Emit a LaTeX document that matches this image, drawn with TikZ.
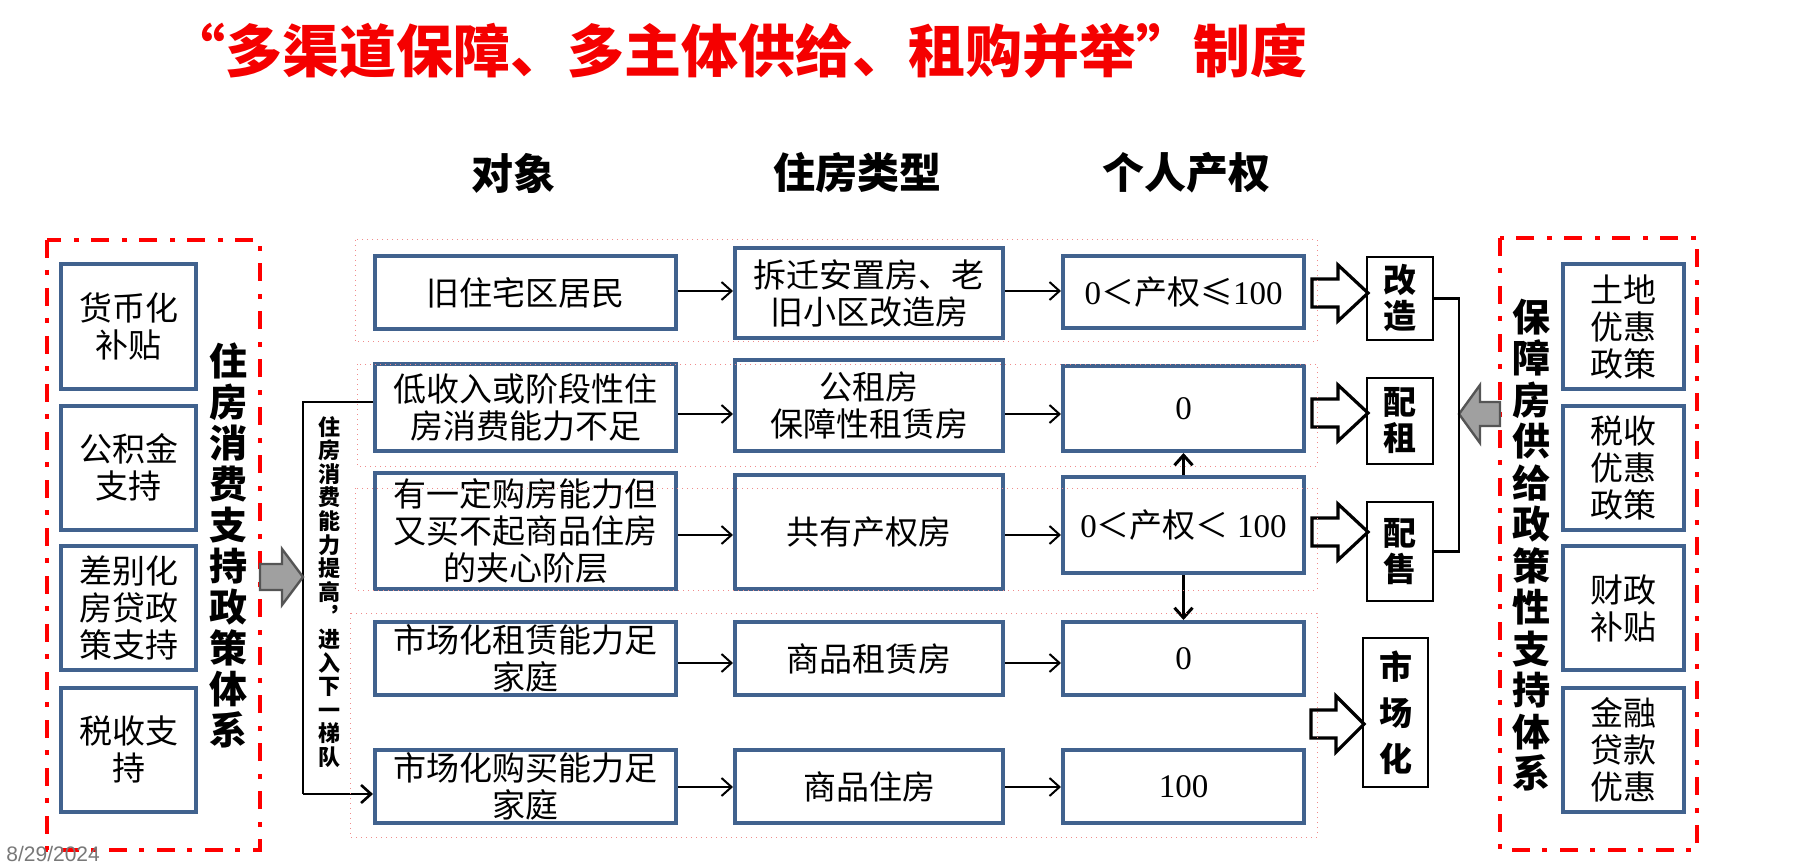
\documentclass[tikz,border=0pt]{standalone}
\usepackage{fontspec}
\setmainfont{Noto Sans CJK SC}
\newfontfamily\tms{Liberation Serif}
\newfontfamily\lsans{Liberation Sans}
\usetikzlibrary{arrows.meta}
\definecolor{boxblue}{RGB}{65,98,142}
\definecolor{pinkdot}{RGB}{240,140,140}
\definecolor{arrgray}{RGB}{160,160,160}
\definecolor{arrdark}{RGB}{85,85,85}
\definecolor{footgray}{RGB}{120,120,120}
\definecolor{titlered}{RGB}{245,0,0}
\newcommand\fsz[2]{\fontsize{#1pt}{#2pt}\selectfont}
\newcommand\hollowarrow[4]{\draw[hollow] (#1,{#4-14}) -- (#2,{#4-14}) -- (#2,{#4-28}) -- (#3,#4) -- (#2,{#4+28}) -- (#2,{#4+14}) -- (#1,{#4+14}) -- cycle;}
\tikzset{
 bbox/.style={draw=boxblue, line width=2pt, inner sep=0pt, align=center, font=\fsz{16.5}{18.5}},
 kbox/.style={draw=black, line width=1pt, inner sep=0pt, align=center, font=\bfseries\fsz{16.5}{18}},
 hdr/.style={font=\bfseries\fsz{21}{24}, inner sep=0pt},
 vtxt/.style={align=center, inner sep=0pt, font=\bfseries\fsz{19}{20.5}},
 reddash/.style={draw=red, line width=2pt, dash pattern=on 9pt off 6pt on 2.5pt off 6.5pt},
 grp/.style={draw=pinkdot, line width=0.5pt, dotted},
 thinarr/.style={line width=1pt, -{Straight Barb[length=5pt,width=9pt]}},
 thickarr/.style={line width=1.5pt, -{Straight Barb[length=5pt,width=9pt]}},
 bline/.style={line width=1.3pt},
 graybk/.style={fill=arrgray, draw=arrdark, line width=1.2pt, line join=miter},
 hollow/.style={draw=black, line width=1.6pt, line join=miter},
}
\begin{document}
\begin{tikzpicture}[x=0.5pt,y=-0.5pt]
\useasboundingbox (0,0) rectangle (1810,866);
\clip (0,0) rectangle (1810,866);

% title
\node[font=\bfseries\fsz{28.5}{30}, text=titlered, inner sep=0pt] (title) at (738,51) {“多渠道保障、多主体供给、租购并举”制度};

% headers
\node[hdr] (h1) at (513,173) {对象};
\node[hdr] (h2) at (857,173) {住房类型};
\node[hdr] (h3) at (1186,173) {个人产权};

% left frame
\draw[reddash] (47,240) rectangle (260,850);
\node[bbox, minimum width=67.5pt, minimum height=62pt] (l1) at (128.5,326.5) {货币化\\补贴};
\node[bbox, minimum width=67.5pt, minimum height=62pt] (l2) at (128.5,467.5) {公积金\\支持};
\node[bbox, minimum width=67.5pt, minimum height=62pt] (l3) at (128.5,608) {差别化\\房贷政\\策支持};
\node[bbox, minimum width=67.5pt, minimum height=62pt] (l4) at (128.5,749.5) {税收支\\持};
\node[vtxt] (lv) at (228,545) {住\\房\\消\\费\\支\\持\\政\\策\\体\\系};

% right frame
\draw[reddash] (1500,238) rectangle (1697,850);
\node[bbox, minimum width=60.5pt, minimum height=62pt] (r1) at (1623.5,326.5) {土地\\优惠\\政策};
\node[bbox, minimum width=60.5pt, minimum height=62pt] (r2) at (1623.5,467.5) {税收\\优惠\\政策};
\node[bbox, minimum width=60.5pt, minimum height=62pt] (r3) at (1623.5,608) {财政\\补贴};
\node[bbox, minimum width=60.5pt, minimum height=62pt] (r4) at (1623.5,749.5) {金融\\贷款\\优惠};
\node[vtxt, font=\bfseries\fsz{19}{20.75}] (rv) at (1531,545) {保\\障\\房\\供\\给\\政\\策\\性\\支\\持\\体\\系};

% column 1
\node[bbox, minimum width=150.5pt, minimum height=36.5pt] (a1) at (525.5,292.5) {旧住宅区居民};
\node[bbox, minimum width=150.5pt, minimum height=43.5pt] (a2) at (525.5,407.5) {低收入或阶段性住\\房消费能力不足};
\node[bbox, minimum width=150.5pt, minimum height=58pt] (a3) at (525.5,531) {有一定购房能力但\\又买不起商品住房\\的夹心阶层};
\node[bbox, minimum width=150.5pt, minimum height=36.5pt] (a4) at (525.5,658.5) {市场化租赁能力足\\家庭};
\node[bbox, minimum width=150.5pt, minimum height=36.5pt] (a5) at (525.5,786.5) {市场化购买能力足\\家庭};

% column 2
\node[bbox, minimum width=134pt, minimum height=45pt] (b1) at (869,293) {拆迁安置房、老\\旧小区改造房};
\node[bbox, minimum width=134pt, minimum height=45.5pt] (b2) at (869,405.5) {公租房\\保障性租赁房};
\node[bbox, minimum width=134pt, minimum height=57pt] (b3) at (869,532) {共有产权房};
\node[bbox, minimum width=134pt, minimum height=36.5pt] (b4) at (869,658.5) {商品租赁房};
\node[bbox, minimum width=134pt, minimum height=36.5pt] (b5) at (869,786.5) {商品住房};

% column 3
\node[bbox, minimum width=120.5pt, minimum height=36pt] (c1) at (1183.5,292) {{\tms 0}＜产权≤{\tms 100}};
\node[bbox, minimum width=120.5pt, minimum height=42.5pt] (c2) at (1183.5,408.5) {\tms 0};
\node[bbox, minimum width=120.5pt, minimum height=48pt] (c3) at (1183.5,525) {{\tms 0}＜产权＜{\tms\ 100}};
\node[bbox, minimum width=120.5pt, minimum height=36.5pt] (c4) at (1183.5,658.5) {\tms 0};
\node[bbox, minimum width=120.5pt, minimum height=36.5pt] (c5) at (1183.5,786.5) {\tms 100};

% small result boxes
\node[kbox, minimum width=33pt, minimum height=41.5pt] (k1) at (1400,298.5) {改\\造};
\node[kbox, minimum width=33pt, minimum height=43pt] (k2) at (1400,421) {配\\租};
\node[kbox, minimum width=33pt, minimum height=49.5pt] (k3) at (1400,551.5) {配\\售};
\node[kbox, minimum width=32.5pt, minimum height=74.5pt, font=\bfseries\fsz{16.5}{23}] (k4) at (1395.5,712.5) {市\\场\\化};

% row levels
\coordinate (y1) at (0,291);
\coordinate (y2) at (0,414);
\coordinate (y3) at (0,535);
\coordinate (y4) at (0,663);
\coordinate (y5) at (0,787);

% thin arrows
\foreach \i in {1,...,5}{
 \draw[thinarr] (a\i.east |- y\i) -- (b\i.west |- y\i);
 \draw[thinarr] (b\i.east |- y\i) -- (c\i.west |- y\i);
}
\draw[thickarr] (c3.north) -- (c2.south);
\draw[thickarr] (c3.south) -- (c4.north);

% left bracket
\coordinate (bt) at (303,402);
\coordinate (bb) at (303,794);
\draw[bline] (a2.west |- bt) -- (bt) -- (bb);
\draw[thinarr, line width=1.3pt] (bb) -- (a5.west |- bb);
\node[align=center, inner sep=0pt, font=\bfseries\fsz{11}{11.8}] (nv) at (329,592) {住\\房\\消\\费\\能\\力\\提\\高\\︐\\进\\入\\下\\一\\梯\\队};

% gray block arrows
\draw[graybk] (260,564) -- (282,564) -- (282,549) -- (303,577) -- (282,605) -- (282,590) -- (260,590) -- cycle;
\draw[graybk] (1500,402) -- (1480,402) -- (1480,385) -- (1459,414) -- (1480,443) -- (1480,426) -- (1500,426) -- cycle;

% right bracket
\coordinate (rt) at (1459,298.5);
\draw[bline] (k1.east) -- (rt) -- (rt |- k3.east) -- (k3.east);

% hollow arrows
\hollowarrow{1312}{1338}{1368}{293}
\hollowarrow{1312}{1338}{1368}{413}
\hollowarrow{1312}{1338}{1368}{532}
\hollowarrow{1311}{1336}{1364}{724}

% group boxes
\draw[grp] (355,240) rectangle (1317,342);
\draw[grp] (357,364) rectangle (1317,466);
\draw[grp] (355,488) rectangle (1317,590);
\draw[grp] (350,613) rectangle (1317,837);

% footer
\node[anchor=base west, font=\lsans\fsz{10.5}{12}, text=footgray, inner sep=0pt] (foot) at (6,861) {8/29/2024};
\end{tikzpicture}
\end{document}
